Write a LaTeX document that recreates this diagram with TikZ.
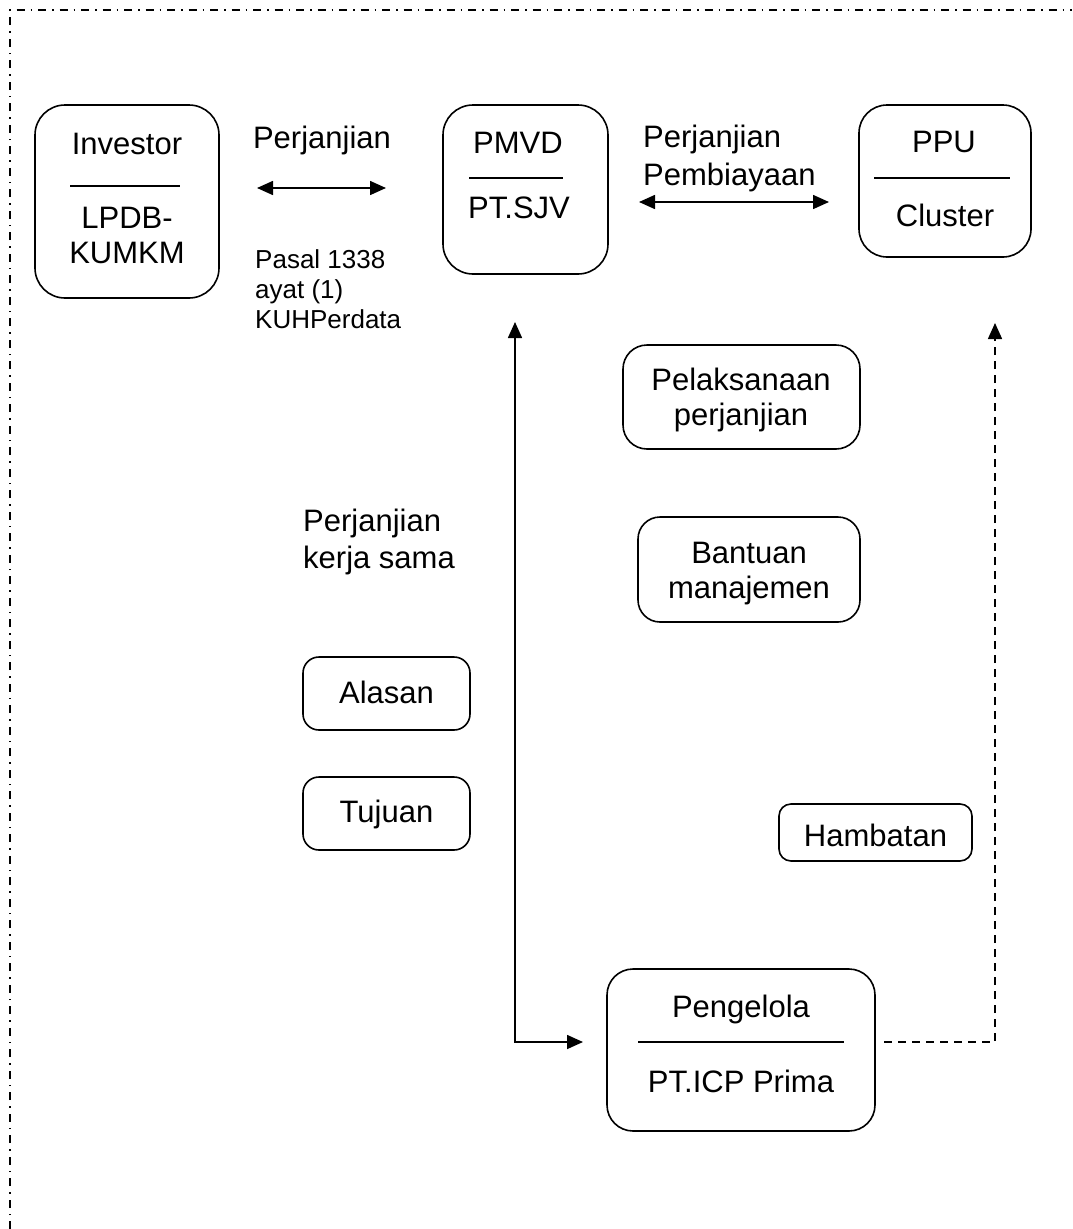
\documentclass[tikz,border=0pt]{standalone}
\usepackage{fontspec}
\setmainfont{Liberation Sans}
\usetikzlibrary{arrows.meta}
\begin{document}
\begin{tikzpicture}[x=1pt,y=-1pt,
  >={Triangle[length=16pt,width=14pt]},
  box/.style={draw, line width=1.6pt, rounded corners=#1, inner sep=0pt},
  box/.default=25pt,
  txt/.style={font=\fontsize{31}{37}\selectfont, inner sep=0pt, anchor=base},
  txtl/.style={font=\fontsize{31}{37}\selectfont, inner sep=0pt, anchor=base west},
  small/.style={font=\fontsize{26}{30}\selectfont, inner sep=0pt, anchor=base west},
  divider/.style={line width=1.5pt},
  conn/.style={line width=1.6pt},
  dconn/.style={line width=1.6pt, dash pattern=on 8pt off 6pt},
  border/.style={line width=1.4pt, dash pattern=on 8pt off 6pt on 1.5pt off 6pt}]
\path[use as bounding box] (0,0) rectangle (1072,1229);
\draw[border] (10,1229) -- (10,10) -- (1072,10);

% boxes
\node[box=30pt, minimum width=184pt, minimum height=193pt] (inv) at (127,201.5) {};
\node[box=30pt, minimum width=165pt, minimum height=169pt] (pmvd) at (525.5,189.5) {};
\node[box=28pt, minimum width=172pt, minimum height=152pt] (ppu) at (945,181) {};
\node[box=24pt, minimum width=237pt, minimum height=104pt] (pel) at (741.5,397) {};
\node[box=22pt, minimum width=222pt, minimum height=105pt] (ban) at (749,569.5) {};
\node[box=16pt, minimum width=167pt, minimum height=73pt] (ala) at (386.5,693.5) {};
\node[box=16pt, minimum width=167pt, minimum height=73pt] (tuj) at (386.5,813.5) {};
\node[box=12pt, minimum width=193pt, minimum height=57pt] (ham) at (875.5,832.5) {};
\node[box=26pt, minimum width=268pt, minimum height=162pt] (pen) at (741,1050) {};

% box texts
\node[txt] (invA) at (127,154) {Investor};
\draw[divider] (70,186) -- (180,186);
\node[txt] (invB) at (127,228) {LPDB-};
\node[txt] (invC) at (127,263) {KUMKM};

\node[txt] (pmvdA) at (518,153) {PMVD};
\draw[divider] (469,178) -- (563,178);
\node[txt] (pmvdB) at (519,218) {PT.SJV};

\node[txt] (ppuA) at (944,152) {PPU};
\draw[divider] (874,178) -- (1010,178);
\node[txt] (ppuB) at (945,226) {Cluster};

\node[txt] (pelA) at (741,390) {Pelaksanaan};
\node[txt] (pelB) at (741,425) {perjanjian};

\node[txt] (banA) at (749,563) {Bantuan};
\node[txt] (banB) at (749,598) {manajemen};

\node[txt] (alaT) at (386.5,703) {Alasan};
\node[txt] (tujT) at (386.5,822) {Tujuan};
\node[txt] (hamT) at (875.5,846) {Hambatan};

\node[txt] (penA) at (741,1017) {Pengelola};
\draw[divider] (638,1042) -- (844,1042);
\node[txt] (penB) at (741,1092) {PT.ICP Prima};

% free labels
\node[txt] (lbl1) at (322,148) {Perjanjian};
\node[small] (pas1) at (255,268) {Pasal 1338};
\node[small] (pas2) at (255,298) {ayat (1)};
\node[small] (pas3) at (255,328) {KUHPerdata};
\node[txtl] (lbl2a) at (643,147) {Perjanjian};
\node[txtl] (lbl2b) at (643,185) {Pembiayaan};
\node[txtl] (lbl3a) at (303,531) {Perjanjian};
\node[txtl] (lbl3b) at (303,568) {kerja sama};

% connectors
\coordinate (a1) at (257,188);
\coordinate (a2) at (386,188);
\draw[conn,<->] (a1) -- (a2);
\coordinate (b1) at (639,202);
\coordinate (b2) at (829,202);
\draw[conn,<->] (b1) -- (b2);
\coordinate (v1) at (515,322);
\coordinate (v3) at (583,1042);
\draw[conn,<->] (v1) |- (v3);
\coordinate (d1) at (884,1042);
\coordinate (d2) at (995,323);
\draw[dconn,->] (d1) -| (d2);
\end{tikzpicture}
\end{document}
